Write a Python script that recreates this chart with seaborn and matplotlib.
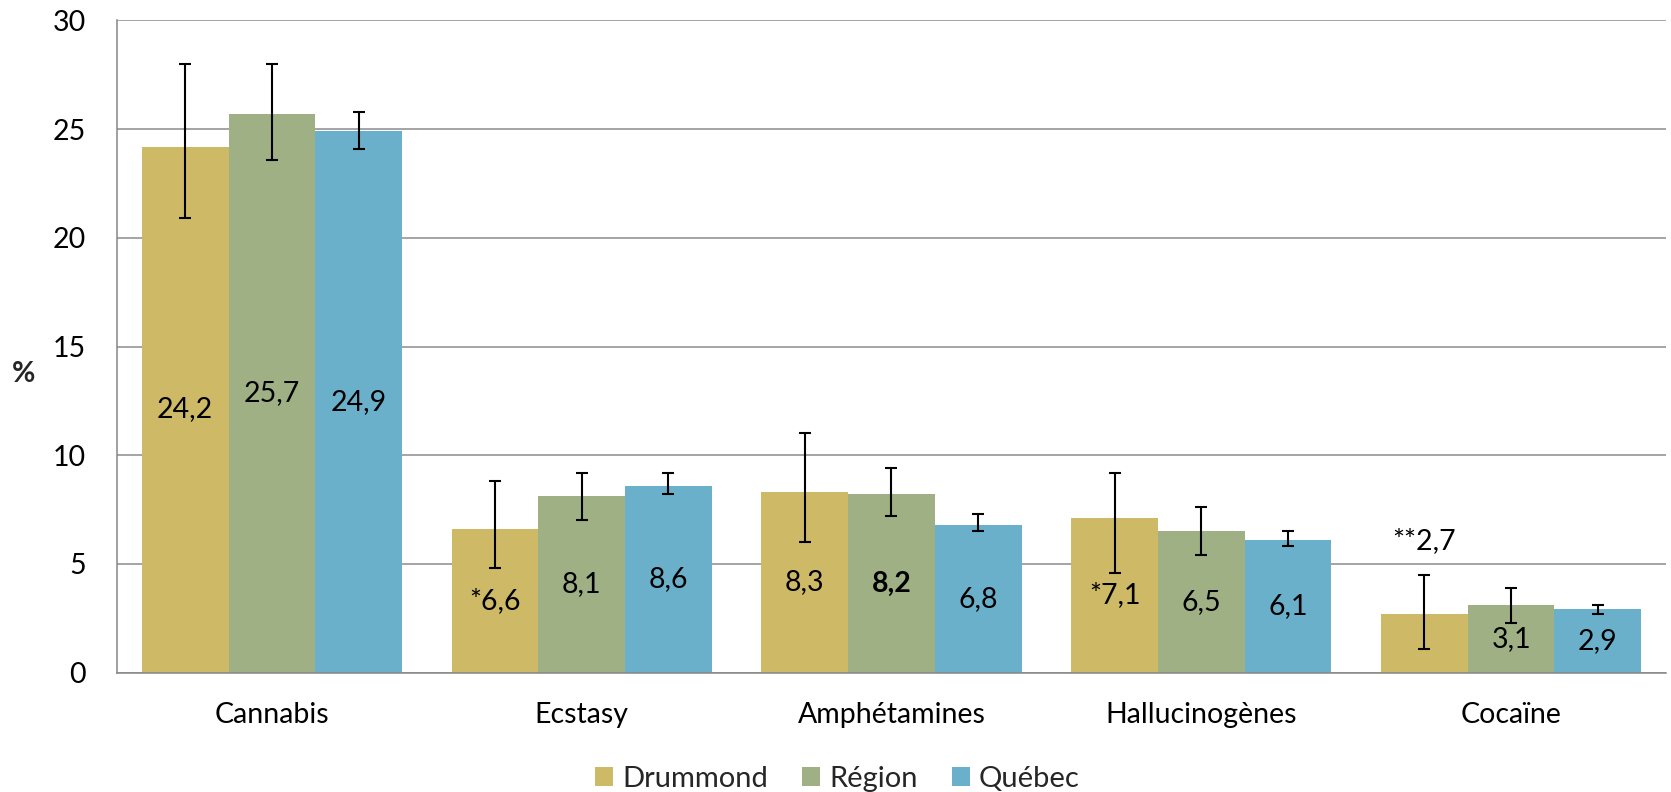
import numpy as np
import pandas as pd
import matplotlib
matplotlib.use("Agg")
import matplotlib.pyplot as plt
import seaborn as sns
from matplotlib.patches import Patch

categories = ["Cannabis", "Ecstasy", "Amphétamines", "Hallucinogènes", "Cocaïne"]
series = ["Drummond", "Région", "Québec"]
drummond = [24.2, 6.6, 8.3, 7.1, 2.7]
region = [25.7, 8.1, 8.2, 6.5, 3.1]
quebec = [24.9, 8.6, 6.8, 6.1, 2.9]
drummond_low = [20.9, 4.8, 6.0, 4.6, 1.1]
drummond_high = [28.0, 8.8, 11.0, 9.2, 4.5]
region_low = [23.6, 7.0, 7.2, 5.4, 2.3]
region_high = [28.0, 9.2, 9.4, 7.6, 3.9]
quebec_low = [24.1, 8.2, 6.5, 5.8, 2.7]
quebec_high = [25.8, 9.2, 7.3, 6.5, 3.1]
labels_drummond = ["24,2", "*6,6", "8,3", "*7,1", "**2,7"]
labels_region = ["25,7", "8,1", "8,2", "6,5", "3,1"]
labels_quebec = ["24,9", "8,6", "6,8", "6,1", "2,9"]
bold_labels = [("Région", "Amphétamines")]
y_ticks = [0, 5, 10, 15, 20, 25, 30]
colors = ["#CDB966", "#9EB084", "#6BB0CA"]

values = [drummond, region, quebec]
lows = [drummond_low, region_low, quebec_low]
highs = [drummond_high, region_high, quebec_high]
labels = [labels_drummond, labels_region, labels_quebec]

df = pd.DataFrame({
    "cat": categories * 3,
    "series": [s for s in series for _ in categories],
    "val": drummond + region + quebec,
})

sns.set_style("white")
plt.rcParams["font.family"] = ["Lato", "DejaVu Sans"]

fig = plt.figure(figsize=(16.71, 7.92), dpi=100)
ax = fig.add_axes([0.0700, 0.15088, 0.92701, 0.82324])

sns.barplot(data=df, x="cat", y="val", hue="series", order=categories,
            hue_order=series, palette=colors, width=0.84, errorbar=None,
            saturation=1, linewidth=0, ax=ax, legend=False, zorder=2)

FS = 20.5
gray = "#868686"
bar_conts = list(ax.containers)
for i, cont in enumerate(bar_conts):
    xs = [b.get_x() + b.get_width() / 2 for b in cont.patches]
    v = np.array(values[i])
    lo = np.array(lows[i])
    hi = np.array(highs[i])
    ax.errorbar(xs, v, yerr=[v - lo, hi - v], fmt="none", ecolor="black",
                elinewidth=1.5, capsize=4, capthick=1.5, zorder=3)
    for j, x in enumerate(xs):
        lab = labels[i][j]
        weight = "bold" if (series[i], categories[j]) in bold_labels else "normal"
        if lab.startswith("**"):
            y = hi[j] + 1.55
        else:
            y = v[j] * 0.5
        ax.text(x, y, lab, ha="center", va="center", fontsize=FS,
                fontweight=weight, color="black", zorder=4)

ax.set_xlim(-0.5, len(categories) - 0.5)
ax.set_ylim(0, 30)
ax.set_yticks(y_ticks)
ax.set_yticklabels([str(t) for t in y_ticks])
ax.set_xticks(range(len(categories)))
ax.set_xticklabels(categories)
ax.set_xticks(np.arange(-0.5, len(categories), 1.0), minor=True)
ax.tick_params(axis="x", which="major", length=0, pad=21, labelsize=FS, colors="black")
ax.tick_params(axis="x", which="minor", length=7.5, width=1.1, color=gray, direction="out")
ax.tick_params(axis="y", which="major", length=7.5, width=1.1, color=gray,
               direction="out", pad=15, labelsize=FS, labelcolor="black")
ax.set_xlabel("")
ax.set_ylabel("%", rotation=0, fontweight="bold", fontsize=FS, ha="center", va="center")
ax.yaxis.set_label_coords(-0.060, 0.458)

ax.yaxis.grid(True, color="#8c8c8c", linewidth=1.1)
ax.set_axisbelow(True)
for s in ["top", "right"]:
    ax.spines[s].set_visible(False)
for s in ["left", "bottom"]:
    ax.spines[s].set_color(gray)
    ax.spines[s].set_linewidth(1.1)

handles = [Patch(facecolor=c, edgecolor="none") for c in colors]
fig.legend(handles, series, loc="center", bbox_to_anchor=(837.5 / 1671, 1 - 779 / 792),
           ncol=3, frameon=False, fontsize=21, handlelength=0.62, handleheight=0.62,
           handletextpad=0.31, columnspacing=1.17, borderpad=0.2)

fig.savefig("out.png", dpi=100)
